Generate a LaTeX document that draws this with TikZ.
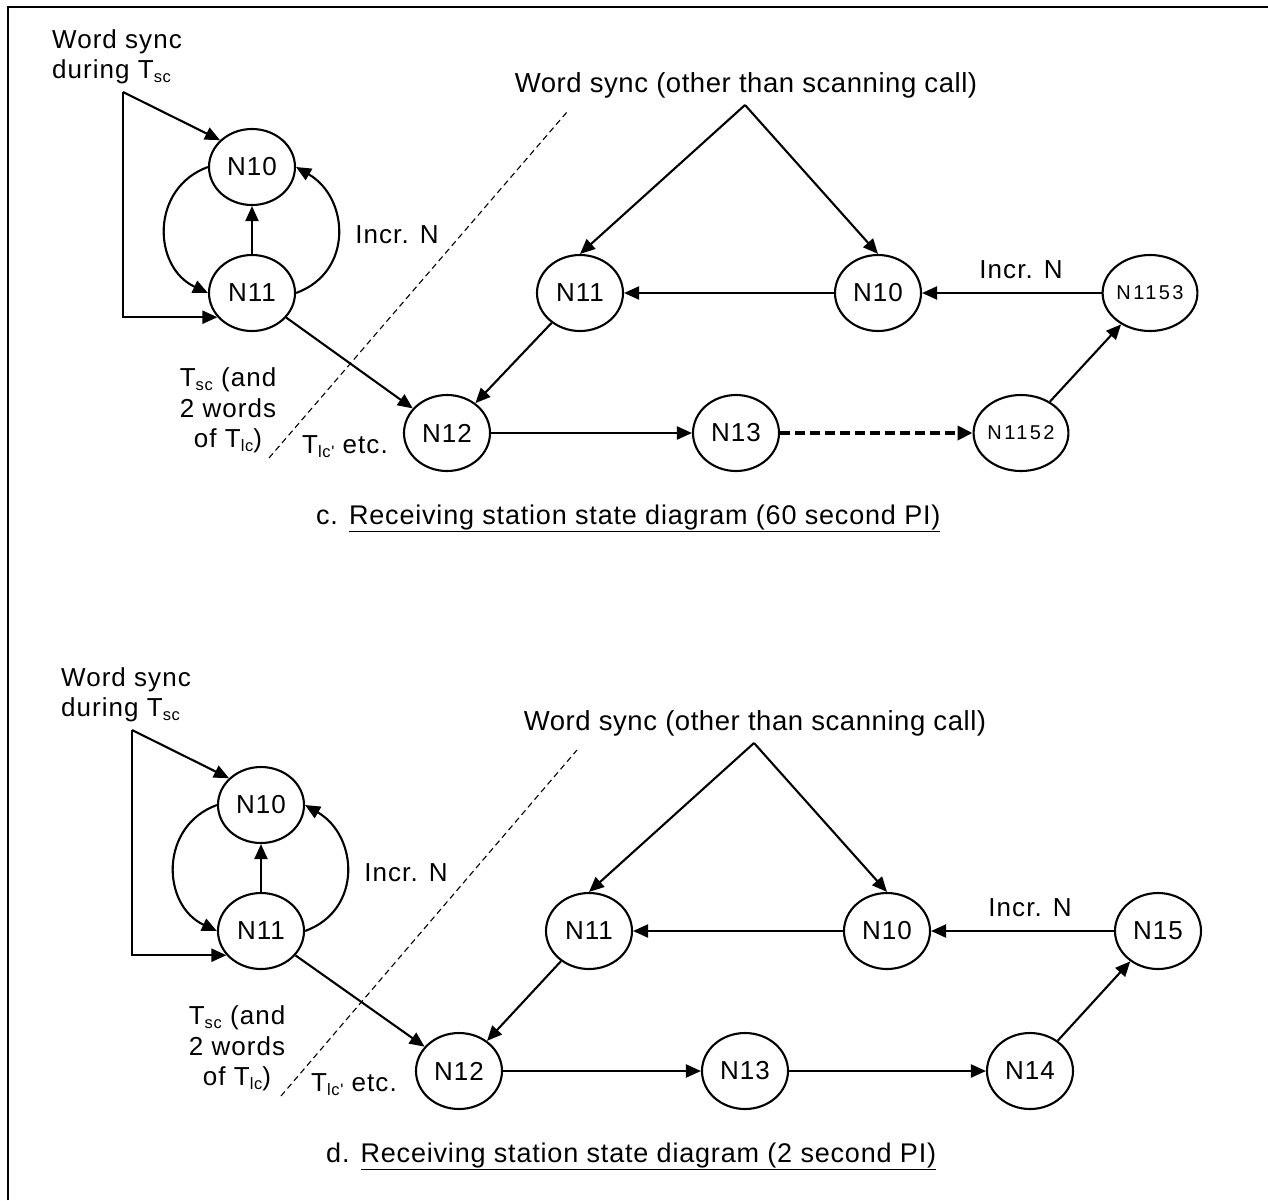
\documentclass[tikz,border=0pt]{standalone}
\usepackage{fontspec}
\setmainfont{Liberation Sans}
\newfontfamily\lblfont[LetterSpace=4]{Liberation Sans}
\newfontfamily\smallfont[LetterSpace=12]{Liberation Sans}
\newfontfamily\titlefont[LetterSpace=2]{Liberation Sans}
\newfontfamily\capfont[LetterSpace=3]{Liberation Sans}
\usetikzlibrary{shapes.geometric,arrows.meta}
\newcommand\mysub[1]{\raisebox{-4.5pt}{\fontsize{16.5}{16.5}\selectfont #1}}
\tikzset{
  lbl/.style={font=\lblfont\fontsize{26}{30}\selectfont, inner sep=0pt},
  ttl/.style={font=\titlefont\fontsize{27.5}{32}\selectfont, inner sep=0pt},
  captext/.style={font=\capfont\fontsize{27}{32}\selectfont, inner sep=0pt},
  st/.style={ellipse, draw, line width=2.1pt, minimum width=86pt, minimum height=76pt,
             inner sep=0pt, font=\lblfont\fontsize{26}{30}\selectfont},
  small/.style={font=\smallfont\fontsize{20}{24}\selectfont},
  arr/.style={line width=2.1pt, -{Triangle[length=15pt,width=13pt]}},
  arrthick/.style={line width=4.5pt, dash pattern=on 10pt off 5pt, -{Triangle[length=15pt,width=14pt]}},
  dsh/.style={line width=1.1pt, dash pattern=on 6pt off 4pt},
  frame/.style={line width=2.5pt}
}
\begin{document}
\begin{tikzpicture}[x=1pt,y=1pt]
\useasboundingbox (0,0) rectangle (1268,-1200);
\fill[white] (0,0) rectangle (1268,-1200);
\coordinate (fA) at (8,-1200);
\coordinate (fB) at (8,-7);
\coordinate (fC) at (1268,-7);
\draw[frame] (fA) -- (fB) -- (fC);

% ================= top diagram (c) =================
\node[lbl, anchor=base west] (ta) at (52,-48) {Word sync};
\node[lbl, anchor=base west] (tb) at (52,-78) {during T\mysub{sc}};
\node[st] (tL10) at (252,-167) {N10};
\node[st] (tL11) at (252,-293) {N11};
\coordinate (tbr) at (123,-92);
\draw[arr] (tbr) -- (tL10.140);
\draw[arr] (tbr) |- (tL11.215);
\draw[arr] (tL11) -- (tL10);
\draw[arr] (tL10.west) to[out=200,in=155,looseness=1.25] (tL11.west);
\draw[arr] (tL11.east) to[out=20,in=330,looseness=1.25] (tL10.east);
\node[lbl] (tIncrL) at (397,-235) {Incr. N};

\node[st] (tN12) at (447,-433) {N12};
\draw[arr] (tL11) -- (tN12);
\coordinate (td1) at (269,-458);
\coordinate (td2) at (567,-112);
\draw[dsh] (td1) -- (td2);
\node[lbl, anchor=base] (tT1) at (228,-386) {T\mysub{sc} (and};
\node[lbl, anchor=base] (tT2) at (228,-417) {2 words};
\node[lbl, anchor=base] (tT3) at (228,-447) {of T\mysub{lc})};
\node[lbl, anchor=base west] (tTlc) at (302,-453) {T\mysub{lc'} etc.};

\node[ttl, anchor=base] (tTitle) at (746,-92) {Word sync (other than scanning call)};
\coordinate (tapex) at (745,-105);
\node[st] (tR11) at (580,-293) {N11};
\node[st] (tR10) at (878,-293) {N10};
\node[st, small] (tR1153) at (1150,-293) {N1153};
\node[st] (tN13) at (736,-433) {N13};
\node[st, small] (tR1152) at (1021,-433) {N1152};
\draw[arr] (tapex) -- (tR11.north);
\draw[arr] (tapex) -- (tR10.north);
\draw[arr] (tR1153) -- (tR10);
\node[lbl] (tIncrR) at (1021,-270) {Incr. N};
\draw[arr] (tR10) -- (tR11);
\draw[arr] (tR11) -- (tN12);
\draw[arr] (tN12) -- (tN13);
\draw[arrthick] (tN13) -- (tR1152);
\draw[arr] (tR1152) -- (tR1153);
\node[captext, anchor=base west] (tcap) at (316,-524) {c. \underline{Receiving station state diagram (60 second PI)}};

% ================= bottom diagram (d) =================
\begin{scope}[shift={(9,-638)}]
\node[lbl, anchor=base west] (ba) at (52,-48) {Word sync};
\node[lbl, anchor=base west] (bb) at (52,-78) {during T\mysub{sc}};
\node[st] (bL10) at (252,-167) {N10};
\node[st] (bL11) at (252,-293) {N11};
\coordinate (bbr) at (123,-92);
\draw[arr] (bbr) -- (bL10.140);
\draw[arr] (bbr) |- (bL11.215);
\draw[arr] (bL11) -- (bL10);
\draw[arr] (bL10.west) to[out=200,in=155,looseness=1.25] (bL11.west);
\draw[arr] (bL11.east) to[out=20,in=330,looseness=1.25] (bL10.east);
\node[lbl] (bIncrL) at (397,-235) {Incr. N};

\node[st] (bN12) at (450,-433) {N12};
\draw[arr] (bL11) -- (bN12);
\coordinate (bd1) at (272,-458);
\coordinate (bd2) at (568,-112);
\draw[dsh] (bd1) -- (bd2);
\node[lbl, anchor=base] (bT1) at (228,-386) {T\mysub{sc} (and};
\node[lbl, anchor=base] (bT2) at (228,-417) {2 words};
\node[lbl, anchor=base] (bT3) at (228,-447) {of T\mysub{lc})};
\node[lbl, anchor=base west] (bTlc) at (302,-453) {T\mysub{lc'} etc.};

\node[ttl, anchor=base] (bTitle) at (746,-92) {Word sync (other than scanning call)};
\coordinate (bapex) at (745,-105);
\node[st] (bR11) at (580,-293) {N11};
\node[st] (bR10) at (878,-293) {N10};
\node[st] (bR15) at (1149,-293) {N15};
\node[st] (bN13) at (736,-433) {N13};
\node[st] (bN14) at (1021,-433) {N14};
\draw[arr] (bapex) -- (bR11.north);
\draw[arr] (bapex) -- (bR10.north);
\draw[arr] (bR15) -- (bR10);
\node[lbl] (bIncrR) at (1021,-270) {Incr. N};
\draw[arr] (bR10) -- (bR11);
\draw[arr] (bR11) -- (bN12);
\draw[arr] (bN12) -- (bN13);
\draw[arr] (bN13) -- (bN14);
\draw[arr] (bN14) -- (bR15);
\node[captext, anchor=base west] (bcap) at (317,-524) {d. \underline{Receiving station state diagram (2 second PI)}};
\end{scope}
\end{tikzpicture}
\end{document}
